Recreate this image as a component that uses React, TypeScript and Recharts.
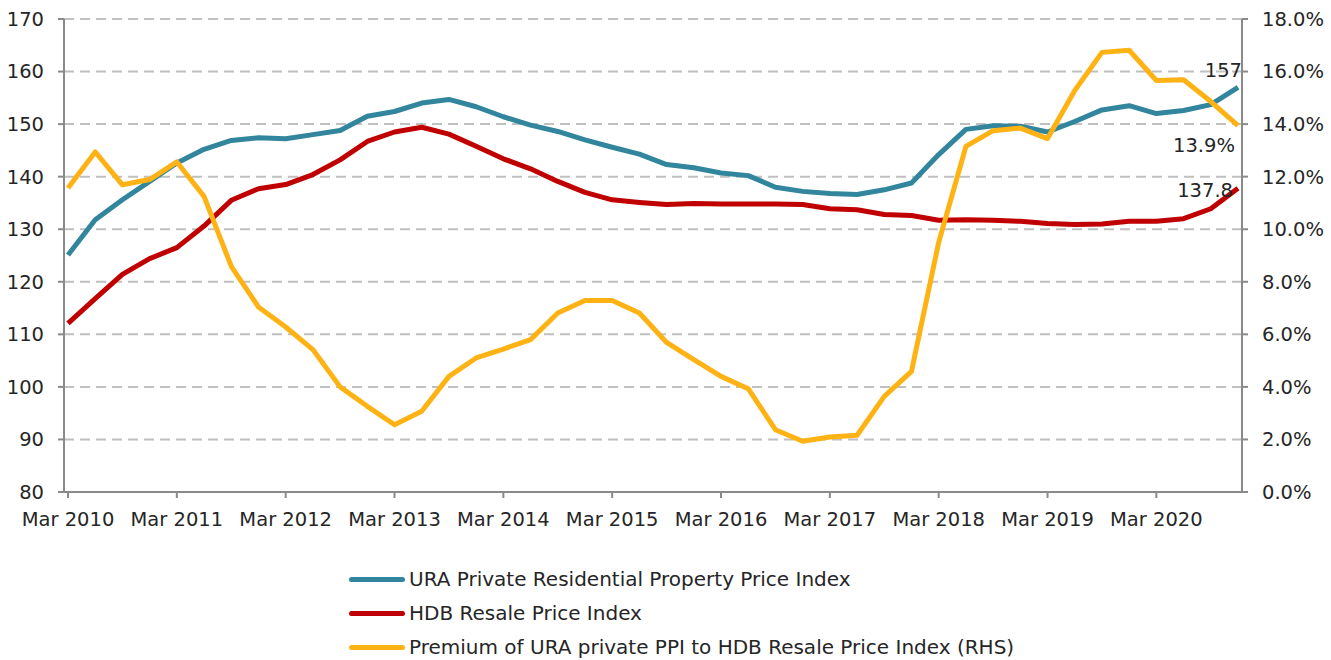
import { LineChart, Line, XAxis, YAxis, CartesianGrid, Legend } from "recharts";

const years = [2010, 2011, 2012, 2013, 2014, 2015, 2016, 2017, 2018, 2019, 2020];
const months = ["Mar", "Jun", "Sep", "Dec"];
const quarters = years.flatMap((y) => months.map((m) => `${m} ${y}`));

const uraPPI = [
  125.1, 131.8, 135.6, 139.1, 142.6, 145.2, 146.9, 147.4, 147.2, 148.0, 148.8, 151.5, 152.4, 154.0,
  154.7, 153.3, 151.4, 149.8, 148.6, 147.0, 145.6, 144.3, 142.3, 141.7, 140.7, 140.2, 138.0, 137.2,
  136.8, 136.6, 137.5, 138.8, 144.2, 149.0, 149.7, 149.6, 148.5, 150.5, 152.7, 153.5, 152.0, 152.6,
  153.7, 157.0,
];
const hdbRPI = [
  112.1, 116.8, 121.4, 124.4, 126.5, 130.6, 135.5, 137.7, 138.5, 140.4, 143.2, 146.7, 148.5, 149.4,
  148.1, 145.8, 143.4, 141.5, 139.1, 137.0, 135.6, 135.1, 134.7, 134.9, 134.8, 134.8, 134.8, 134.7,
  133.9, 133.7, 132.8, 132.6, 131.7, 131.8, 131.7, 131.5, 131.1, 130.9, 131.0, 131.5, 131.5, 132.0,
  133.9, 137.8,
];
// premium in %
const premium = [
  11.57, 12.94, 11.69, 11.89, 12.56, 11.25, 8.59, 7.04, 6.28, 5.42, 4.0, 3.26, 2.56, 3.07, 4.4, 5.1,
  5.44, 5.8, 6.81, 7.29, 7.29, 6.81, 5.69, 5.04, 4.4, 3.93, 2.37, 1.93, 2.09, 2.16, 3.64, 4.59, 9.5,
  13.15, 13.75, 13.85, 13.45, 15.28, 16.73, 16.81, 15.66, 15.69, 14.86, 13.94,
];

const leftTicks = [80, 90, 100, 110, 120, 130, 140, 150, 160, 170];
const rightTicks = [0, 2, 4, 6, 8, 10, 12, 14, 16, 18];

const series = [
  { key: "ura", name: "URA Private Residential Property Price Index", color: "#31859c" },
  { key: "hdb", name: "HDB Resale Price Index", color: "#c00000" },
  { key: "premium", name: "Premium of URA private PPI to HDB Resale Price Index (RHS)", color: "#ffb214" },
];

const data = quarters.map((q, i) => ({
  q,
  ura: uraPPI[i],
  hdb: hdbRPI[i],
  premium: premium[i],
}));

const FONT = "'DejaVu Sans', sans-serif";
const TEXT = "#262626";
const AXIS = "#8a8a8a";
const TICK_SIZE = 19.5;
const last = data.length - 1;

function endLabel(fmt: (v: number) => string, dx: number, dy: number) {
  return (props: any) => {
    const { x, y, index, value } = props;
    if (index !== last) return <g />;
    return (
      <text
        x={x + dx}
        y={y + dy}
        textAnchor="end"
        dominantBaseline="central"
        fill={TEXT}
        fontSize={TICK_SIZE}
        fontFamily={FONT}
      >
        {fmt(value)}
      </text>
    );
  };
}

// legend drawn from our own series list so the order stays as in the original
function LegendList() {
  return (
    <div style={{ paddingTop: 40, paddingLeft: 349, fontFamily: FONT, fontSize: 20, color: TEXT }}>
      {series.map((s) => (
        <div key={s.key} style={{ height: 34, display: "flex", alignItems: "center" }}>
          <span
            style={{
              width: 56,
              height: 5,
              borderRadius: 3,
              background: s.color,
              marginRight: 4,
              display: "inline-block",
            }}
          />
          <span style={{ whiteSpace: "nowrap" }}>{s.name}</span>
        </div>
      ))}
    </div>
  );
}

const tickStyle = { fill: TEXT, fontSize: TICK_SIZE, fontFamily: FONT };

export default function App() {
  return (
    <div
      style={{
        position: "fixed",
        left: 0,
        top: 0,
        width: 1331,
        height: 660,
        overflow: "hidden",
        background: "#fff",
      }}
    >
      <LineChart width={1331} height={664} data={data} margin={{ top: 19, right: 0, left: 0, bottom: 0 }}>
        <CartesianGrid vertical={false} stroke="#c0c0c0" strokeWidth={2} strokeDasharray="10 6" />
        <XAxis
          dataKey="q"
          scale="point"
          padding={{ left: 4, right: 4 }}
          interval={3}
          height={30}
          tickSize={6}
          tickMargin={14}
          axisLine={{ stroke: AXIS, strokeWidth: 2 }}
          tickLine={{ stroke: AXIS, strokeWidth: 2 }}
          tick={tickStyle}
        />
        <YAxis
          domain={[80, 170]}
          ticks={leftTicks}
          width={64}
          tickSize={6}
          tickMargin={14}
          axisLine={{ stroke: AXIS, strokeWidth: 2 }}
          tickLine={{ stroke: AXIS, strokeWidth: 2 }}
          tick={tickStyle}
        />
        <YAxis
          yAxisId="right"
          orientation="right"
          domain={[0, 18]}
          ticks={rightTicks}
          width={89}
          tickSize={6}
          tickMargin={14}
          tickFormatter={(v: number) => `${v.toFixed(1)}%`}
          axisLine={{ stroke: AXIS, strokeWidth: 2 }}
          tickLine={{ stroke: AXIS, strokeWidth: 2 }}
          tick={tickStyle}
        />
        <Legend verticalAlign="bottom" align="left" content={<LegendList />} />
        <Line
          dataKey="ura"
          name={series[0].name}
          stroke={series[0].color}
          strokeWidth={5}
          strokeLinejoin="round"
          dot={false}
          isAnimationActive={false}
          label={endLabel((v) => `${v}`, 4, -17)}
        />
        <Line
          dataKey="hdb"
          name={series[1].name}
          stroke={series[1].color}
          strokeWidth={5}
          strokeLinejoin="round"
          dot={false}
          isAnimationActive={false}
          label={endLabel((v) => `${v}`, -5, 2)}
        />
        <Line
          dataKey="premium"
          yAxisId="right"
          name={series[2].name}
          stroke={series[2].color}
          strokeWidth={5}
          strokeLinejoin="round"
          dot={false}
          isAnimationActive={false}
          label={endLabel((v) => `${v.toFixed(1)}%`, -3, 20)}
        />
      </LineChart>
    </div>
  );
}
